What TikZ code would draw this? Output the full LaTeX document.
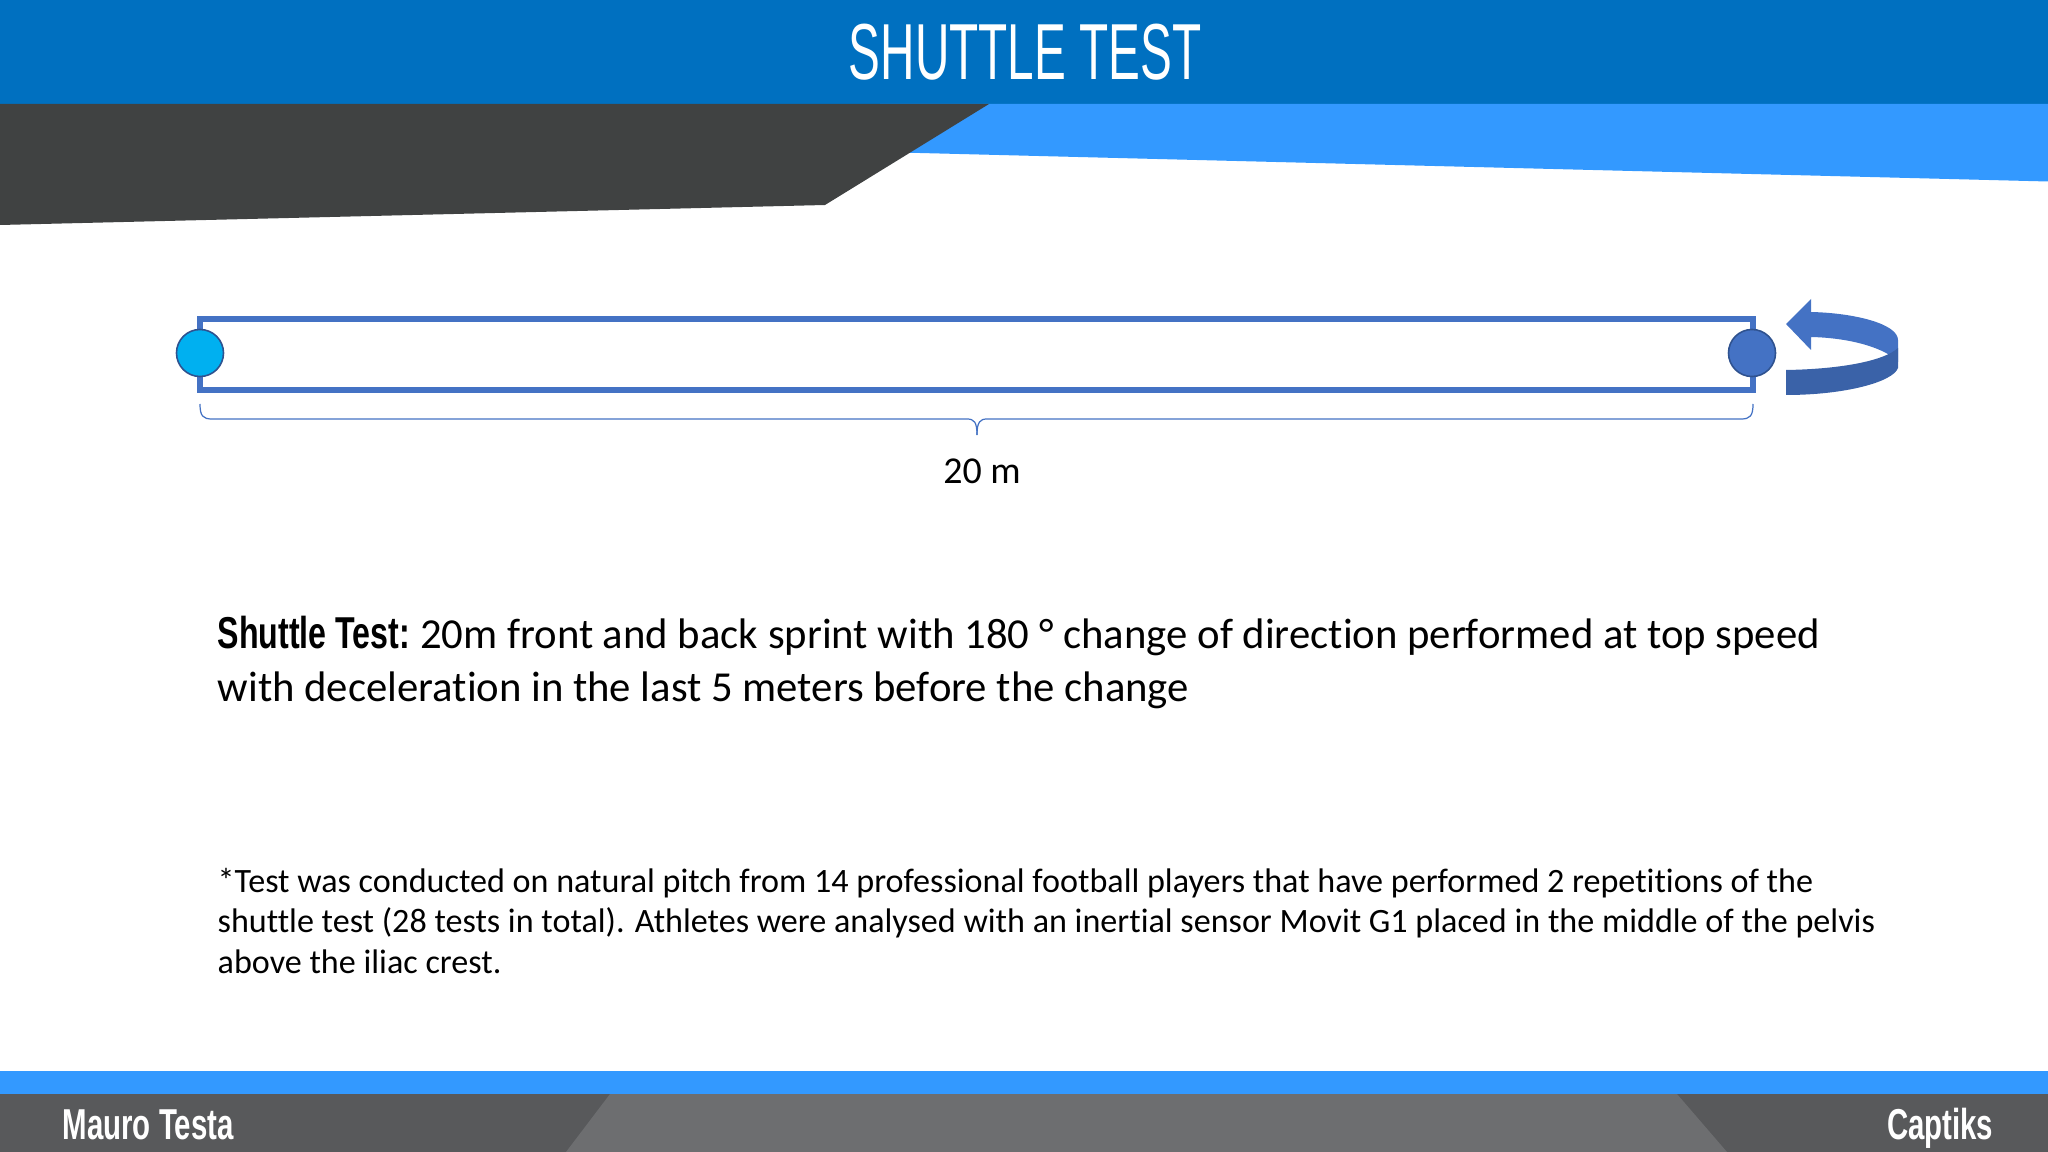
\documentclass[tikz,border=0pt]{standalone}
\usepackage{fontspec}
\setmainfont{Carlito}[Ligatures=NoCommon]
\newfontfamily\headfont[FakeStretch=0.6]{Liberation Sans}
\newfontfamily\tagfont[FakeStretch=0.68]{Liberation Sans}
\newfontfamily\leadfont[FakeStretch=0.72]{Liberation Sans}
\definecolor{hdrblue}{HTML}{0070C0}
\definecolor{skyblue}{HTML}{3399FF}
\definecolor{slate}{HTML}{404242}
\definecolor{footgray}{HTML}{58595B}
\definecolor{footmid}{HTML}{6D6E70}
\definecolor{trackblue}{HTML}{4472C4}
\definecolor{rimblue}{HTML}{2F528F}
\definecolor{dotcyan}{HTML}{00B0F0}
\definecolor{bandblue}{HTML}{3A62A8}

\begin{document}
\begin{tikzpicture}[x=0.01cm,y=-0.01cm,
  conedot/.style={circle,draw=rimblue,line width=0.45pt,minimum size=0.47cm,inner sep=0pt},
  track/.style={draw=trackblue,line width=1.7pt,fill=white},
  brace/.style={draw=trackblue,line width=0.35pt},
  whitetag/.style={text=white,inner sep=0pt,font=\tagfont\bfseries\fontsize{12.3}{14}\selectfont}]
\useasboundingbox (0,0) rectangle (2048,1152);
\fill [white] (0,0) rectangle (2048,1152);

\fill [hdrblue] (0,0) rectangle (2048,104.5);
\fill [skyblue] (880,104) -- (2048,104) -- (2048,181.5) -- (880,152) -- cycle;
\fill [slate] (0,104) -- (989,104) -- (825,205) -- (0,225) -- cycle;
\node [anchor=base,text=white,inner sep=0pt,font=\headfont\fontsize{22.6}{27}\selectfont] (title) at (1025,80) {SHUTTLE TEST};

\draw [track] (200,319) rectangle (1753,390);
\node [conedot,fill=dotcyan] (start) at (200,353) {};
\node [conedot,fill=trackblue] (turn) at (1752,353) {};

\fill [trackblue] (1786,324) -- (1811,299) -- (1811,312) .. controls (1855,313) and (1898,324) .. (1898,340)
  -- (1898,362) .. controls (1888,350) and (1855,338) .. (1811,337) -- (1811,350) -- cycle;
\fill [bandblue] (1786,370) .. controls (1845,369) and (1885,360) .. (1898,348)
  -- (1898,368) .. controls (1893,382) and (1845,395) .. (1786,395) -- cycle;

\coordinate (bl) at (200,404);
\coordinate (br) at (1753,404);
\coordinate (tip) at (977,435);
\draw [brace] (bl) .. controls (200,416) and (203,419) .. (212,419) -- (967,419) .. controls (974,419) and (977,422) .. (tip);
\draw [brace] (br) .. controls (1753,416) and (1750,419) .. (1741,419) -- (987,419) .. controls (980,419) and (977,422) .. (tip);
\node [anchor=base,inner sep=0pt,font=\fontsize{10.8}{13}\selectfont] (dist) at (982,484) {20 m};

\node [anchor=base west,align=left,inner sep=0pt,font=\fontsize{12.15}{14.8}\selectfont] (desc) at (217,701)
  {{\leadfont\bfseries\fontsize{12.7}{14.8}\selectfont Shuttle Test:}\kern-0.8pt{} 20m front and back sprint with 180 ° change of direction performed at top speed\\
   with deceleration in the last 5 meters before the change};

\node [anchor=base west,align=left,inner sep=0pt,font=\fontsize{9.7}{11.5}\selectfont] (note) at (217,973)
  {*Test was conducted on natural pitch from 14 professional football players that have performed 2 repetitions of the\\
   shuttle test (28 tests in total). Athletes were analysed with an inertial sensor Movit G1 placed in the middle of the pelvis\\
   above the iliac crest.};

\fill [skyblue] (0,1071) rectangle (2048,1094);
\fill [footgray] (0,1094) rectangle (2048,1152);
\fill [footmid] (610,1094) -- (1677,1094) -- (1727,1152) -- (566,1152) -- cycle;
\node [whitetag,anchor=base west] (author) at (62,1139) {Mauro Testa};
\node [whitetag,anchor=base east] (brand) at (1994,1139) {Captiks};
\end{tikzpicture}
\end{document}
